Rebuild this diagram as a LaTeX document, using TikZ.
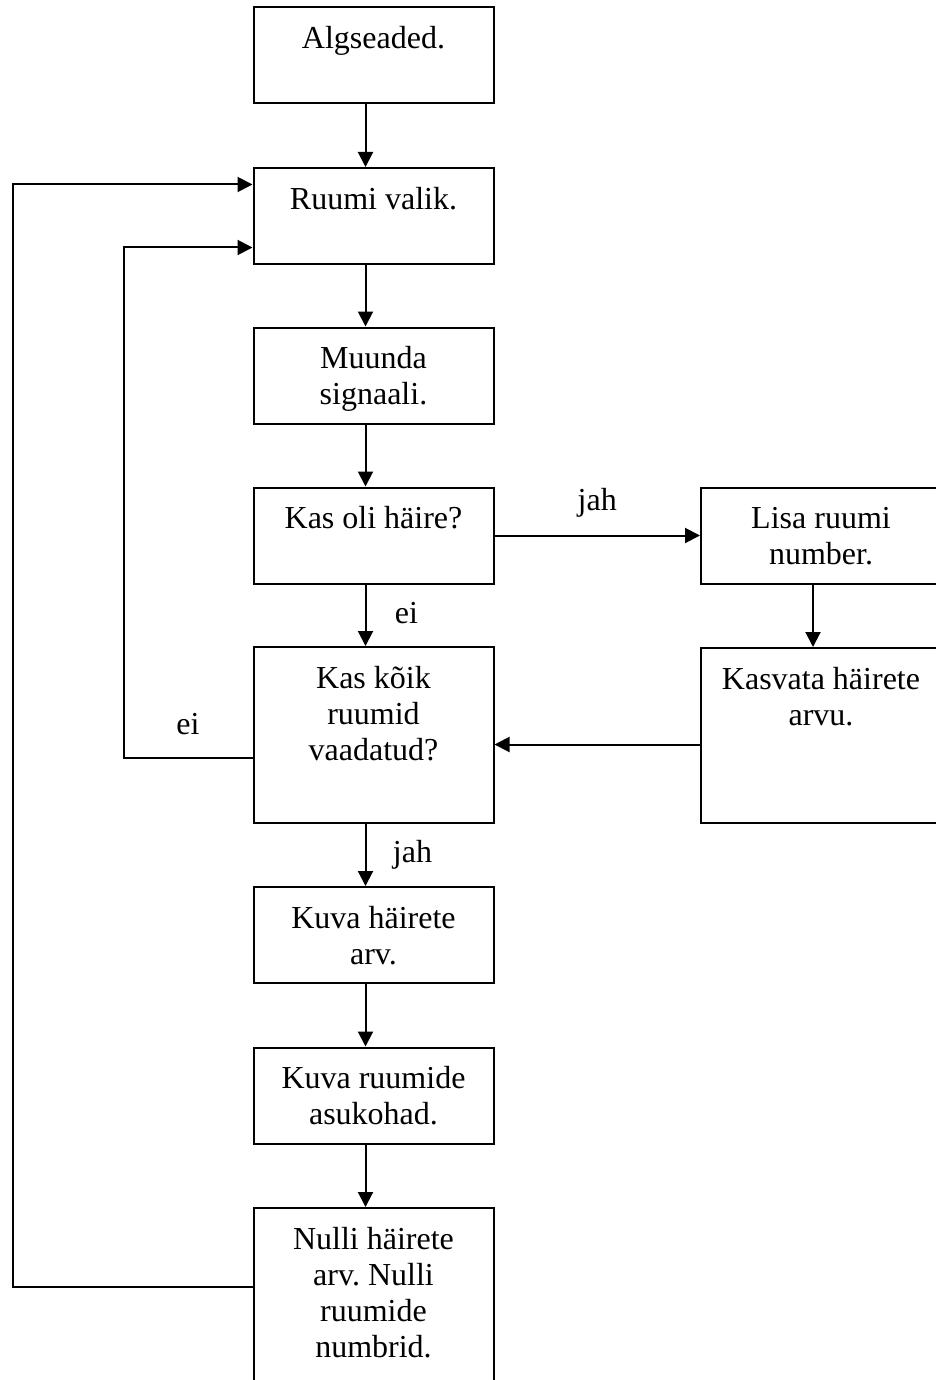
\documentclass[tikz,border=0pt]{standalone}
\usepackage{fontspec}
\setmainfont{Liberation Serif}
\usetikzlibrary{positioning}
\usetikzlibrary{arrows.meta}
\frenchspacing
\newcommand{\boxfont}{\fontsize{16}{18}\selectfont}
\newcommand{\boxtext}[2]{\parbox[t][#1][t]{120pt}{\centering\vspace*{8pt}\strut #2}}
\tikzset{
  box/.style={draw, line width=1pt, inner sep=0pt, anchor=north west, font=\boxfont},
  flow/.style={-{Triangle[length=7.5pt,width=7.5pt]}, line width=1pt},
  lbl/.style={font=\boxfont, inner sep=0pt},
}

\begin{document}
\begin{tikzpicture}[x=0.5pt, y=-0.5pt]
    \useasboundingbox (0,0) rectangle (936,1380);

    % main column
    \node[box] (alg)    at (252.5, 6)      {\boxtext{48pt}{Algseaded.}};
    \node[box] (valik)  at (252.5, 167)    {\boxtext{48pt}{Ruumi valik.}};
    \node[box] (muunda) at (252.5, 326.5)  {\boxtext{48pt}{Muunda\\ signaali.}};
    \node[box] (haire)  at (252.5, 486.5)  {\boxtext{48pt}{Kas oli häire?}};
    \node[box] (koik)   at (252.5, 646)    {\boxtext{88pt}{Kas kõik\\ ruumid\\ vaadatud?}};
    \node[box] (kuva)   at (252.5, 886)    {\boxtext{48pt}{Kuva häirete\\ arv.}};
    \node[box] (asuk)   at (252.5, 1046.5) {\boxtext{48pt}{Kuva ruumide\\ asukohad.}};
    \node[box] (nulli)  at (252.5, 1207)   {\boxtext{96pt}{Nulli häirete\\ arv. Nulli\\ ruumide\\ numbrid.}};

    % right column
    \node[box] (lisa)    at (700, 486.5) {\boxtext{48pt}{Lisa ruumi\\ number.}};
    \node[box] (kasvata) at (700, 647)   {\boxtext{87.5pt}{Kasvata häirete\\ arvu.}};

    % straight arrows down
    \foreach \a/\b in {alg/valik, valik/muunda, muunda/haire, haire/koik, koik/kuva, kuva/asuk, asuk/nulli, lisa/kasvata} {
        \draw[flow] ([xshift=-4pt]\a.south) -- ([xshift=-4pt]\b.north);
    }
    \node[lbl, anchor=base west] (ei1) at ([xshift=10.5pt, yshift=-19.5pt]haire.south) {ei};
    \node[lbl, anchor=base west] (jah2) at ([xshift=9.5pt, yshift=-19pt]koik.south) {jah};

    \draw[flow] (haire.east) -- (lisa.west)
        node[lbl, midway, anchor=base, yshift=12.5pt] (jah1) {jah};
    \draw[flow] ([yshift=-4.5pt]kasvata.west) -- ([yshift=-4.5pt]kasvata.west -| koik.east);

    % loops back to Ruumi valik
    \draw[flow] ([yshift=-11.5pt]koik.west) -- ++(-64.5pt,0)
        node[lbl, midway, anchor=base, yshift=12pt] (ei2) {ei}
        |- ([yshift=-15.75pt]valik.west);
    \draw[flow] ([yshift=8.5pt]nulli.west) -- ++(-119.75pt,0) |- ([yshift=15.75pt]valik.west);
\end{tikzpicture}
\end{document}
